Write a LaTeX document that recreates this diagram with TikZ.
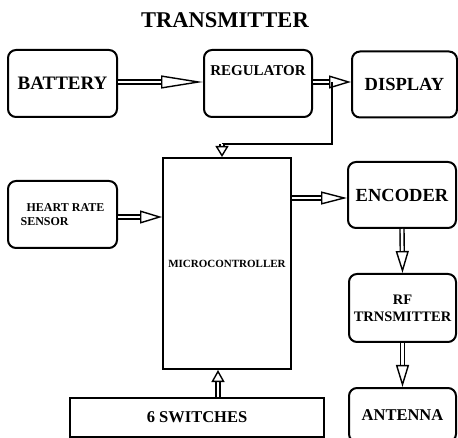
\documentclass[tikz,border=0pt]{standalone}
\usepackage{fontspec}
\setmainfont{Liberation Serif}
\usetikzlibrary{positioning, arrows.meta, calc}

\begin{document}
\begin{tikzpicture}[
    x=1pt, y=-1pt,
    font=\bfseries,
    blk/.style={rounded corners=8pt, draw=black, line width=2pt, align=center,
        inner sep=2pt, minimum width=#1},
    blk/.default=108pt,
    sqblk/.style={draw=black, line width=2pt, align=center, inner sep=2pt},
    hollow/.style={double=white, double distance=2.6pt, line width=1.4pt,
        -{Triangle[open, length=#1, width=13pt, line width=1.4pt]}},
    hollow/.default=22pt,
    wire/.style={line width=1.8pt}
  ]
    \useasboundingbox (0,0) rectangle (458,438);
    \node[font=\fontsize{22.5}{24}\selectfont\bfseries] (title) at (225,20) {TRANSMITTER};
    % top row
    \node[blk=109pt, minimum height=67pt, font=\fontsize{19}{21}\selectfont\bfseries] (bat) at (62.5,83.5) {BATTERY};
    \node[blk, minimum height=67pt, font=\fontsize{15}{17}\selectfont\bfseries] (reg) at (258,83.5) {REGULATOR\\[8pt]};
    \node[blk=105pt, minimum height=66pt, font=\fontsize{18.5}{20}\selectfont\bfseries] (disp) at (404.5,84.5) {DISPLAY};
    % middle
    \node[blk=109pt, minimum height=67pt, align=left, font=\fontsize{12}{14}\selectfont\bfseries] (hrs) at (62.5,214.5) {\hspace{6pt}HEART RATE\\SENSOR};
    \node[sqblk, minimum width=128pt, minimum height=211pt, font=\fontsize{11}{13}\selectfont\bfseries] (mcu) at (227,263.5) {MICROCONTROLLER};
    \node[sqblk, minimum width=254pt, minimum height=39pt, font=\fontsize{16.5}{18}\selectfont\bfseries] (sw) at (197,417.5) {6 SWITCHES};
    % right column
    \node[blk, minimum height=66pt, font=\fontsize{18.5}{20}\selectfont\bfseries] (enc) at (402,195) {ENCODER};
    \node[blk=107pt, minimum height=68pt, font=\fontsize{14.5}{17}\selectfont\bfseries] (rf) at (402.5,308) {RF\\TRNSMITTER};
    \node[blk=107pt, minimum height=54pt, font=\fontsize{16.5}{18}\selectfont\bfseries] (ant) at (402.5,415) {ANTENNA};
    % connections
    \draw[hollow=42pt] (bat.east |- 0,82) -- (reg.west |- 0,82);
    \draw[hollow] (reg.east |- 0,82) -- (disp.west |- 0,82);
    \coordinate (tap) at ($(reg.east |- 0,82)!0.5!(disp.west |- 0,82)$);
    \coordinate (drop) at ($(mcu.north)+(-5,-13)$);
    \draw[wire] (tap) |- (drop);
    \draw[hollow=11pt] (drop) -- (drop |- mcu.north);
    \draw[hollow] (hrs.east |- 0,217) -- (mcu.west |- 0,217);
    \draw[hollow=26pt] (mcu.east |- 0,198) -- (enc.west |- 0,198);
    \draw[hollow] (enc.south) -- (rf.north);
    \draw[hollow] (rf.south) -- (ant.north);
    \draw[hollow=12pt] ($(sw.north)+(21,0)$) -- ($(mcu.south)+(-9,0)$);
\end{tikzpicture}
\end{document}
